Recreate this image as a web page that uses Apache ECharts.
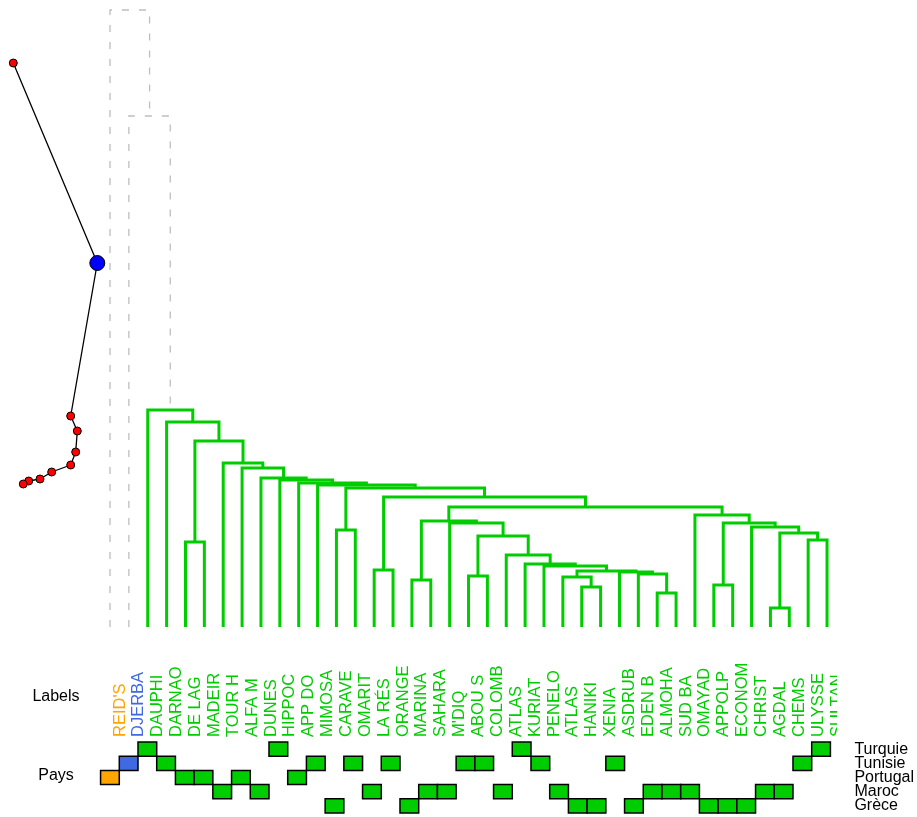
<!DOCTYPE html>
<html><head><meta charset="utf-8">
<script src="https://cdn.jsdelivr.net/npm/echarts@6/dist/echarts.min.js"></script>
<style>html,body{margin:0;padding:0;background:#fff}#c{width:917px;height:817px}</style>
</head><body><div id="c"></div>
<script>
// ---- data ----
const leafLabels = ["REID'S","DJERBA","DAUPHI","DARNAO","DE LAG","MADEIR","TOUR H","ALFA M","DUNES","HIPPOC","APP DO","MIMOSA","CARAVE","OMARIT","LA RÉS","ORANGE","MARINA","SAHARA","M'DIQ","ABOU S","COLOMB","ATLAS","KURIAT","PENELO","ATLAS","HANIKI","XENIA","ASDRUB","EDEN B","ALMOHA","SUD BA","OMAYAD","APPOLP","ECONOM","CHRIST","AGDAL","CHEMS","ULYSSE","SULTAN"];
const leafCountry = ["Portugal","Tunisie","Turquie","Tunisie","Portugal","Portugal","Maroc","Portugal","Maroc","Turquie","Portugal","Tunisie","Grèce","Tunisie","Maroc","Tunisie","Grèce","Maroc","Maroc","Tunisie","Tunisie","Maroc","Turquie","Tunisie","Maroc","Grèce","Grèce","Tunisie","Grèce","Maroc","Maroc","Maroc","Grèce","Grèce","Grèce","Maroc","Maroc","Tunisie","Turquie"];
const leafCluster = [0,1,2,2,2,2,2,2,2,2,2,2,2,2,2,2,2,2,2,2,2,2,2,2,2,2,2,2,2,2,2,2,2,2,2,2,2,2,2];
const countries = ["Turquie","Tunisie","Portugal","Maroc","Grèce"];
// hclust-style merges: negative = leaf position (1-based), positive = earlier merge row (1-based)
const mergeLeft  = [-36,-30,-26,-33,-17,-25,-20,-29,-28,6,-15,-24,-23,-22,-5,-38,7,1,-13,-35,4,-19,5,-32,23,11,19,-12,-11,-10,-9,-8,-7,15,-4,-3,-2,-1];
const mergeRight = [-37,-31,-27,-34,-18,3,-21,2,8,9,-16,10,12,13,-6,-39,14,16,-14,18,20,17,22,21,24,25,26,27,28,29,30,31,32,33,34,35,36,37];
const mergeHeight = [0.19,0.34,0.40,0.42,0.47,0.50,0.51,0.53,0.55,0.56,0.57,0.61,0.63,0.72,0.85,0.87,0.91,0.94,0.97,1.00,1.04,1.04,1.06,1.12,1.20,1.30,1.39,1.42,1.44,1.47,1.49,1.59,1.64,1.86,2.05,2.17,5.11,6.17];
const screeX = [13.3,97.3,70.7,77.3,75.7,70.7,51.7,40,28.7,23.3];
const screeY = [5.64,3.64,2.11,1.96,1.75,1.62,1.55,1.48,1.46,1.43];
const screeHighlight = 1;

// ---- styles ----
const clusterColors = ['#FFA500','#4169E1','#00CD00'];
const FONT = '"Liberation Sans", Arial, Helvetica, sans-serif';
const N = leafLabels.length;
const maxH = mergeHeight[mergeHeight.length-1];

// build dendrogram segments
const nodeX = [], nodeH = [], nodeCl = [];
function info(ref){
  if(ref < 0){ const i=-ref; return {x:i, h:0, cl:leafCluster[i-1]}; }
  return {x:nodeX[ref-1], h:nodeH[ref-1], cl:nodeCl[ref-1]};
}
const segs = [];
for(let k=0;k<mergeLeft.length;k++){
  const a = info(mergeLeft[k]), b = info(mergeRight[k]);
  const cl = (a.cl === b.cl) ? a.cl : -1;
  nodeX.push((a.x+b.x)/2); nodeH.push(mergeHeight[k]); nodeCl.push(cl);
  segs.push([a.x, a.h, b.x, b.h, mergeHeight[k], cl]);
}

const cells = leafCountry.map((c,i)=>[i, countries.indexOf(c), leafCluster[i]]);
const labelItems = leafLabels.map((t,i)=>[i+1, 0, leafCluster[i]]);

const gridLeft = 100.57, gridW = 735.9;
const chart = echarts.init(document.getElementById('c'), null, {renderer:'canvas'});
const hidden = {axisLine:{show:false},axisTick:{show:false},axisLabel:{show:false},splitLine:{show:false}};
chart.setOption({
  animation:false,
  backgroundColor:'#fff',
  grid:[
    {left:gridLeft, width:gridW, top:10, height:617},
    {left:0, width:110, top:10, height:617},
    {left:gridLeft, width:gridW, top:742, height:71},
    {left:gridLeft, width:gridW, top:650, height:87}
  ],
  xAxis:[
    Object.assign({type:'value', gridIndex:0, min:0.5, max:N+0.5}, hidden),
    Object.assign({type:'value', gridIndex:1, min:0, max:110}, hidden),
    Object.assign({type:'category', gridIndex:2, data:leafLabels.map((_,i)=>String(i))}, hidden),
    Object.assign({type:'value', gridIndex:3, min:0.5, max:N+0.5}, hidden)
  ],
  yAxis:[
    Object.assign({type:'value', gridIndex:0, min:0, max:maxH}, hidden),
    Object.assign({type:'value', gridIndex:1, min:0, max:maxH}, hidden),
    {type:'category', gridIndex:2, position:'right', inverse:true, data:countries,
     axisLine:{show:false}, axisTick:{show:false}, splitLine:{show:false},
     axisLabel:{show:true, interval:0, margin:24, fontSize:16, fontFamily:FONT, color:'#000', align:'left'}},
    Object.assign({type:'value', gridIndex:3, min:0, max:1}, hidden)
  ],
  graphic:[
    {type:'text', x:56, y:697, style:{text:'Labels', fontSize:16, fontFamily:FONT, fill:'#000', align:'center', verticalAlign:'middle'}},
    {type:'text', x:56, y:776, style:{text:'Pays', fontSize:16, fontFamily:FONT, fill:'#000', align:'center', verticalAlign:'middle'}}
  ],
  series:[
    {type:'custom', xAxisIndex:0, yAxisIndex:0, clip:false, data:segs,
     encode:{x:[0,2], y:[1,3,4]},
     renderItem:(params, api)=>{
       const p1 = api.coord([api.value(0), api.value(1)]);
       const p2 = api.coord([api.value(0), api.value(4)]);
       const p3 = api.coord([api.value(2), api.value(4)]);
       const p4 = api.coord([api.value(2), api.value(3)]);
       const cl = api.value(5);
       const grey = cl < 0;
       return {type:'polyline', shape:{points:[p1,p2,p3,p4]},
         style:{stroke: grey ? '#BEBEBE' : clusterColors[cl], lineWidth: grey ? 1.3 : 3,
                lineDash: grey ? [7,10] : null, fill:'none', lineJoin:'miter', lineCap:'butt'}};
     }},
    {type:'line', xAxisIndex:1, yAxisIndex:1, clip:false, z:5,
     data: screeX.map((x,i)=>({value:[x, screeY[i]],
        symbolSize: i===screeHighlight ? 15 : 8,
        itemStyle:{color: i===screeHighlight ? '#0000FF' : '#FF0000', borderColor:'#000', borderWidth:1}})),
     symbol:'circle', showAllSymbol:true,
     lineStyle:{color:'#000', width:1.3}},
    {type:'custom', xAxisIndex:2, yAxisIndex:2, clip:false, data:cells,
     encode:{x:0, y:1},
     renderItem:(params, api)=>{
       const c = api.coord([api.value(0), api.value(1)]);
       const s = api.size([1,1]);
       return {type:'rect', shape:{x:c[0]-s[0]/2, y:c[1]-s[1]/2, width:s[0], height:s[1]},
         style:{fill: clusterColors[api.value(2)], stroke:'#000', lineWidth:1.5}};
     }},
    {type:'custom', xAxisIndex:3, yAxisIndex:3, clip:true, data:labelItems,
     encode:{x:0, y:1},
     renderItem:(params, api)=>{
       const c = api.coord([api.value(0), api.value(1)]);
       return {type:'text', x:c[0]+1.5, y:c[1], rotation:Math.PI/2,
         style:{text: leafLabels[params.dataIndex], fontSize:16.5, fontFamily:FONT,
                fill: clusterColors[api.value(2)], align:'left', verticalAlign:'top'}};
     }}
  ]
});
</script></body></html>
